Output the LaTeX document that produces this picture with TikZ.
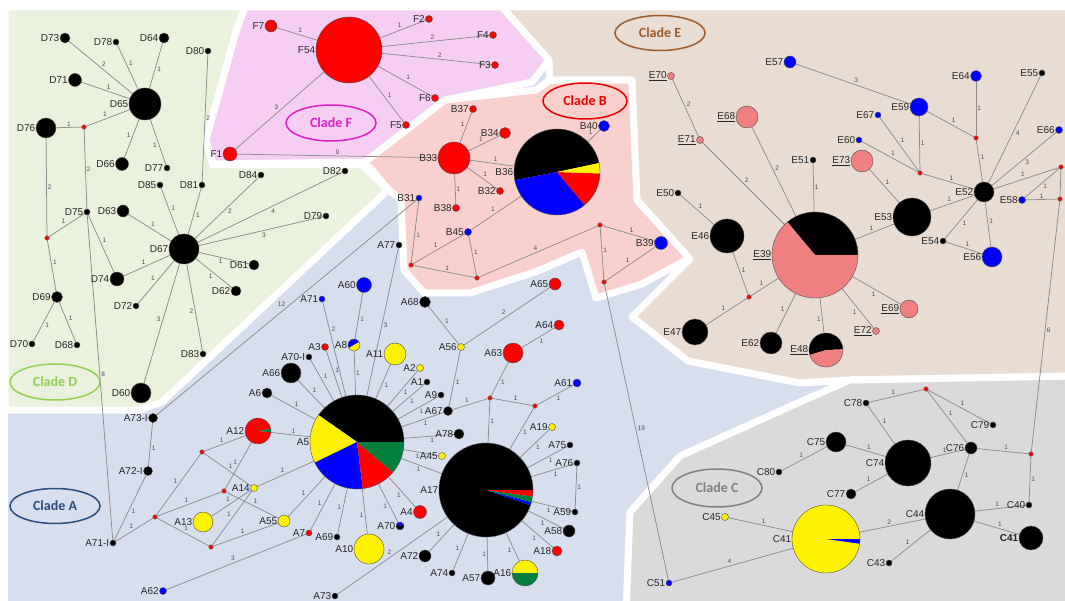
\documentclass[tikz,border=0pt]{standalone}
\usepackage{fontspec}
\setmainfont{Liberation Sans}
\newfontfamily\cladefont{Carlito}
\usetikzlibrary{shapes.geometric}
\definecolor{regA}{HTML}{D7DFEF}
\definecolor{regD}{HTML}{EAF1DD}
\definecolor{regF}{HTML}{F6CEF3}
\definecolor{regB}{HTML}{F9D0CE}
\definecolor{regE}{HTML}{E9DDD3}
\definecolor{regC}{HTML}{DADADA}
\definecolor{ecol}{HTML}{F08080}
\definecolor{gcol}{HTML}{00803C}
\definecolor{cD}{HTML}{92D050}
\definecolor{cF}{HTML}{DD22CC}
\definecolor{cB}{HTML}{EE0000}
\definecolor{cE}{HTML}{9E5B2A}
\definecolor{cA}{HTML}{2B4C7E}
\definecolor{cC}{HTML}{808080}
\pgfdeclarelayer{back}
\pgfdeclarelayer{edges}
\pgfsetlayers{back,edges,main}
\tikzset{
 edge/.style={draw=black!45, line width=0.75pt},
 hp/.style={circle, draw=black!70, line width=0.4pt, inner sep=0pt, outer sep=0pt},
 lab/.style={font=\fontsize{10}{10}\selectfont, text=black!85, inner sep=0.6pt},
 elab/.style={font=\fontsize{6.5}{6.5}\selectfont, text=black!70, inner sep=1pt, midway, auto},
 region/.style={draw=white, line width=7pt, line join=round},
 clade/.style={ellipse, draw, line width=1.5pt, minimum width=90pt, minimum height=36pt, inner sep=0pt, font=\cladefont\bfseries\fontsize{14}{14}\selectfont},
}
\newcommand\hap[6]{\node[hp, minimum size=#4*2pt, fill=#5, label={[lab]left:#6}] (#1) at (#2,#3) {};}
\newcommand\med[3]{\node[hp, minimum size=4.5pt, fill=red, draw=black!60] (#1) at (#2,#3) {};}
\newcommand\pieslice[6]{\fill[#6] (#1,#2) -- ++(-#3:#5) arc[start angle=-#3, end angle=-#4, radius=#5] -- cycle;}
\newcommand\piehap[5]{\node[hp, minimum size=#4*2pt, label={[lab]left:#5}] (#1) at (#2,#3) {};}
\newcommand\ed[3]{\draw[edge] (#1) -- node[elab]{#3} (#2);}
\newcommand\edo[4]{\draw[edge] (#1) -- node[elab,#4]{#3} (#2);}
\begin{document}
\begin{tikzpicture}[x=1pt,y=-1pt]
\useasboundingbox (0,0) rectangle (1065,601);
\begin{pgfonlayer}{back}
\fill[white] (0,0) rectangle (1065,601);
\fill[regA] (8,8) rectangle (1075,610);
\filldraw[region, fill=regD] (5,7) -- (248,7) -- (236,32) -- (206,140) -- (213,165) -- (362,165) -- (388,190) -- (162,402) -- (140,410) -- (5,410) -- cycle;
\filldraw[region, fill=regF] (245,7) -- (502,7) -- (549,60) -- (532,82) -- (445,100) -- (365,162) -- (213,164) -- (206,140) -- (236,32) -- cycle;
\filldraw[region, fill=regB] (365,162) -- (445,100) -- (536,90) -- (550,80) -- (632,80) -- (637,200) -- (690,258) -- (642,284) -- (596,298) -- (582,252) -- (535,272) -- (470,293) -- (424,293) -- (404,270) -- (401,200) -- (388,189) -- cycle;
\filldraw[region, fill=regE] (502,7) -- (1075,7) -- (1075,376) -- (850,380) -- (800,383) -- (688,361) -- (632,317) -- (690,259) -- (637,200) -- (632,80) -- (550,80) -- (549,60) -- cycle;
\filldraw[region, fill=regC] (626,610) -- (630,512) -- (680,456) -- (800,402) -- (850,380) -- (1075,376) -- (1075,610) -- cycle;
\end{pgfonlayer}
% clade labels
\node[clade, draw=cD, text=cD] (cladeD) at (55,382) {Clade D};
\node[clade, draw=cF, text=cF] (cladeF) at (331,123) {Clade F};
\node[clade, draw=cB, text=cB, minimum width=84pt] (cladeB) at (585,101) {Clade B};
\node[clade, draw=cE, text=cE, minimum height=35pt] (cladeE) at (660,33) {Clade E};
\node[clade, draw=cA, text=cA, minimum height=35pt] (cladeA) at (55,506) {Clade A};
\node[clade, draw=cC, text=cC, minimum height=38pt] (cladeC) at (717,488) {Clade C};
% Clade D
\hap{D73}{65}{38}{5}{black}{D73}
\hap{D78}{116}{42}{3}{black}{D78}
\hap{D64}{164}{38}{5}{black}{D64}
\hap{D80}{208}{51}{3}{black}{D80}
\hap{D71}{75}{80}{6.5}{black}{D71}
\hap{D65}{145}{104}{16}{black}{D65}
\hap{D76}{46}{128}{10}{black}{D76}
\med{mD1}{84}{127}
\hap{D66}{122}{164}{6.5}{black}{D66}
\hap{D77}{167}{168}{3}{black}{D77}
\hap{D85}{160}{185}{3}{black}{D85}
\hap{D81}{202}{185}{3}{black}{D81}
\hap{D84}{261}{175}{3}{black}{D84}
\hap{D82}{345}{171}{3}{black}{D82}
\hap{D79}{326}{216}{3}{black}{D79}
\hap{D75}{87}{212}{3}{black}{D75}
\med{mD2}{47}{238}
\hap{D63}{123}{211}{6}{black}{D63}
\hap{D67}{184}{249}{15}{black}{D67}
\hap{D74}{117}{279}{7}{black}{D74}
\hap{D72}{136}{306}{3}{black}{D72}
\hap{D61}{254}{265}{5}{black}{D61}
\hap{D62}{236}{291}{5}{black}{D62}
\hap{D69}{57}{297}{5.5}{black}{D69}
\hap{D70}{32}{344}{3}{black}{D70}
\hap{D68}{77}{345}{3}{black}{D68}
\hap{D83}{203}{354}{3}{black}{D83}
\hap{D60}{141}{393}{10}{black}{D60}
% Clade F
\hap{F7}{271}{26}{6}{red}{F7}
\hap{F54}{349}{50}{33}{red}{F54}
\hap{F2}{429}{19}{3.5}{red}{F2}
\hap{F4}{493}{35}{3.5}{red}{F4}
\hap{F3}{495}{65}{3.5}{red}{F3}
\hap{F6}{435}{98}{3.5}{red}{F6}
\hap{F5}{406}{125}{3.5}{red}{F5}
\hap{F1}{230}{154}{7}{red}{F1}
% Clade B
\hap{B33}{454}{158}{16}{red}{B33}
\hap{B37}{473}{109}{3.5}{red}{B37}
\hap{B34}{505}{133}{5.5}{red}{B34}
\pieslice{557}{172}{12}{191}{43}{black}
\pieslice{557}{172}{191}{310}{43}{blue}
\pieslice{557}{172}{310}{358}{43}{red}
\pieslice{557}{172}{358}{372}{43}{yellow}
\piehap{B36}{557}{172}{43}{B36}
\hap{B32}{500}{191}{3.5}{red}{B32}
\hap{B38}{456}{208}{3.5}{red}{B38}
\hap{B40}{604}{126}{5.5}{blue}{B40}
\hap{B31}{419}{198}{3}{blue}{B31}
\hap{B45}{468}{232}{3.5}{blue}{B45}
\med{rBa}{411}{265}
\med{rBb}{477}{278}
\med{rB1}{600}{225}
\med{rB2}{604}{282}
\hap{B39}{661}{243}{6.5}{blue}{B39}
% Clade E
\hap{E70}{671}{76}{3.5}{ecol}{\underline{E70}}
\hap{E71}{700}{140}{3.5}{ecol}{\underline{E71}}
\hap{E68}{747}{117}{11}{ecol}{\underline{E68}}
\hap{E57}{790}{62}{6}{blue}{E57}
\hap{E64}{976}{76}{5.5}{blue}{E64}
\hap{E55}{1042}{73}{3}{black}{E55}
\hap{E59}{919}{107}{9}{blue}{E59}
\hap{E67}{878}{115}{3}{blue}{E67}
\hap{E60}{859}{140}{3}{blue}{E60}
\hap{E73}{862}{161}{11}{ecol}{\underline{E73}}
\hap{E51}{813}{160}{3}{black}{E51}
\med{mE1}{976}{138}
\med{mE2}{920}{173}
\hap{E52}{984}{192}{10}{black}{E52}
\hap{E66}{1059}{130}{3.5}{blue}{E66}
\med{mE3}{1061}{167}
\hap{E58}{1022}{200}{3.5}{blue}{E58}
\med{mE4}{1060}{199}
\hap{E50}{678}{193}{3}{black}{E50}
\hap{E46}{727}{236}{17}{black}{E46}
\pieslice{815}{255}{0}{130}{43}{black}
\pieslice{815}{255}{130}{360}{43}{ecol}
\piehap{E39}{815}{255}{43}{\underline{E39}}
\hap{E53}{912}{217}{19}{black}{E53}
\hap{E54}{943}{241}{3}{black}{E54}
\hap{E56}{992}{257}{10}{blue}{E56}
\med{mE5}{749}{297}
\hap{E47}{695}{332}{13}{black}{E47}
\hap{E62}{771}{343}{11}{black}{E62}
\pieslice{826}{350}{2}{197}{17}{black}
\pieslice{826}{350}{197}{362}{17}{ecol}
\piehap{E48}{826}{350}{17}{\underline{E48}}
\hap{E69}{909}{309}{9}{ecol}{\underline{E69}}
\hap{E72}{876}{331}{3.5}{ecol}{\underline{E72}}
% Clade C
\hap{C78}{866}{403}{3}{black}{C78}
\med{mC2}{926}{389}
\hap{C79}{993}{425}{3}{black}{C79}
\hap{C75}{836}{442}{10}{black}{C75}
\hap{C74}{908}{463}{23}{black}{C74}
\hap{C76}{971}{448}{6}{black}{C76}
\med{mC1}{1031}{454}
\hap{C80}{779}{472}{3}{black}{C80}
\hap{C77}{851}{494}{5}{black}{C77}
\hap{C44}{950}{514}{25}{black}{C44}
\hap{C40}{1029}{505}{3}{black}{C40}
\hap{C41b}{1031}{538}{12}{black}{\textbf{C41}}
\hap{C43}{889}{563}{3}{black}{C43}
\pieslice{826}{539}{0}{352}{34}{yellow}
\pieslice{826}{539}{352}{360}{34}{blue}
\piehap{C41}{826}{539}{34}{C41}
\hap{C45}{725}{517}{3.5}{yellow}{C45}
\hap{C51}{669}{583}{3}{blue}{C51}
% Clade A
\hap{A73I}{153}{418}{4.5}{black}{A73-I}
\hap{A72I}{148}{471}{4.5}{black}{A72-I}
\hap{A71I}{113}{543}{3}{black}{A71-I}
\med{rA1}{155}{517}
\med{rA2}{202}{452}
\med{rA3}{224}{491}
\med{rA4}{211}{547}
\hap{A13}{203}{522}{10}{yellow}{A13}
\hap{A14}{254}{488}{3.5}{yellow}{A14}
\pieslice{258}{431}{10}{355}{13}{red}
\pieslice{258}{431}{355}{370}{13}{gcol}
\piehap{A12}{258}{431}{13}{A12}
\hap{A55}{284}{521}{6}{yellow}{A55}
\hap{A62}{163}{591}{3.5}{blue}{A62}
\hap{A7}{309}{533}{3}{red}{A7}
\hap{A69}{337}{537}{3}{black}{A69}
\hap{A10}{369}{549}{15}{yellow}{A10}
\hap{A73}{335}{596}{3}{black}{A73}
\pieslice{400}{526}{150}{390}{4}{black}
\pieslice{400}{526}{30}{150}{4}{blue}
\piehap{A70}{400}{526}{4}{A70}
\hap{A4}{420}{512}{6.5}{red}{A4}
\pieslice{357}{442}{0}{145}{47}{black}
\pieslice{357}{442}{145}{206}{47}{yellow}
\pieslice{357}{442}{206}{277}{47}{blue}
\pieslice{357}{442}{277}{320}{47}{red}
\pieslice{357}{442}{320}{360}{47}{gcol}
\piehap{A5}{357}{442}{47}{A5}
\hap{A6}{267}{393}{5}{black}{A6}
\hap{A66}{291}{373}{10}{black}{A66}
\hap{A70I}{309}{357}{3}{black}{A70-I}
\hap{A3}{325}{347}{3.5}{red}{A3}
\hap{A71}{322}{299}{3}{blue}{A71}
\pieslice{354}{345}{30}{210}{6}{blue}
\pieslice{354}{345}{210}{390}{6}{yellow}
\piehap{A8}{354}{345}{6}{A8}
\hap{A60}{364}{285}{7.5}{blue}{A60}
\hap{A77}{399}{245}{3}{black}{A77}
\hap{A11}{395}{354}{11}{yellow}{A11}
\hap{A2}{420}{368}{3.5}{yellow}{A2}
\hap{A1}{427}{382}{3}{black}{A1}
\hap{A9}{441}{395}{3}{black}{A9}
\hap{A67}{448}{411}{4.5}{black}{A67}
\hap{A78}{459}{434}{5}{black}{A78}
\hap{A45}{442}{456}{3.5}{yellow}{A45}
\hap{A68}{425}{302}{5.5}{black}{A68}
\hap{A56}{461}{347}{3.5}{yellow}{A56}
\hap{A65}{555}{284}{6}{red}{A65}
\hap{A64}{559}{325}{5}{red}{A64}
\hap{A63}{513}{353}{10}{red}{A63}
\med{rA5}{490}{398}
\med{rA6}{535}{406}
\hap{A61}{577}{383}{4}{blue}{A61}
\hap{A19}{552}{427}{3.5}{yellow}{A19}
\hap{A75}{570}{445}{3}{black}{A75}
\hap{A76}{577}{463}{3}{black}{A76}
\hap{A59}{575}{512}{3}{black}{A59}
\hap{A58}{569}{531}{6}{black}{A58}
\hap{A18}{557}{551}{5}{red}{A18}
\pieslice{486}{490}{0}{341}{47}{black}
\pieslice{486}{490}{341}{345}{47}{blue}
\pieslice{486}{490}{345}{352}{47}{gcol}
\pieslice{486}{490}{352}{360}{47}{red}
\piehap{A17}{486}{490}{47}{A17}
\hap{A72}{425}{556}{6}{black}{A72}
\hap{A74}{452}{573}{3}{black}{A74}
\hap{A57}{488}{578}{7}{black}{A57}
\pieslice{525}{573}{0}{180}{13}{yellow}
\pieslice{525}{573}{180}{360}{13}{gcol}
\piehap{A16}{525}{573}{13}{A16}
% connectors
\begin{pgfonlayer}{edges}
% D
\ed{D73}{D65}{2}\ed{D78}{D65}{1}\ed{D64}{D65}{1}\ed{D71}{D65}{1}
\ed{D76}{mD1}{1}\ed{mD1}{D65}{1}\ed{D66}{D65}{1}\ed{D77}{D65}{1}
\ed{D80}{D81}{2}\ed{D76}{mD2}{2}\ed{mD1}{D75}{2}\ed{mD2}{D75}{1}
\ed{mD2}{D69}{1}\ed{D69}{D70}{1}\ed{D69}{D68}{1}\ed{D75}{D74}{1}
\ed{D63}{D67}{1}\ed{D74}{D67}{1}\ed{D72}{D67}{1}\ed{D61}{D67}{1}
\ed{D62}{D67}{1}\ed{D83}{D67}{2}\ed{D60}{D67}{3}\ed{D85}{D67}{1}
\ed{D81}{D67}{1}\ed{D84}{D67}{2}\ed{D82}{D67}{4}\ed{D79}{D67}{3}
\ed{D75}{A71I}{8}
% F
\ed{F7}{F54}{1}\ed{F54}{F2}{1}\ed{F54}{F4}{2}\ed{F54}{F3}{2}
\ed{F54}{F6}{1}\ed{F54}{F5}{1}\ed{F1}{F54}{3}\ed{F1}{B33}{9}
% B
\ed{B33}{B37}{1}\ed{B33}{B34}{1}\ed{B33}{B36}{1}\ed{B33}{B32}{1}
\ed{B33}{B38}{1}\ed{B36}{B40}{1}\ed{B45}{B36}{1}\ed{B31}{rBa}{1}
\ed{rBa}{B45}{1}\ed{rBa}{rBb}{1}\ed{B45}{rBb}{1}\ed{rBb}{rB1}{4}
\ed{rB1}{B39}{1}\ed{rB1}{rB2}{1}\ed{rB2}{B39}{1}\ed{rB2}{C51}{19}
\ed{A73I}{B31}{12}
% E
\ed{E57}{E59}{3}\ed{E70}{E71}{2}\ed{E71}{E39}{2}\ed{E68}{E39}{2}
\ed{E51}{E39}{1}\ed{E50}{E46}{1}\ed{E46}{mE5}{1}\ed{E47}{mE5}{1}
\ed{mE5}{E39}{1}\ed{E62}{E39}{1}\ed{E48}{E39}{1}\ed{E72}{E39}{1}
\ed{E69}{E39}{1}\ed{E39}{E53}{1}\ed{E53}{E52}{1}\ed{E73}{E53}{1}
\ed{E52}{E54}{1}\ed{E52}{E56}{1}\ed{E54}{E56}{1}\ed{mE2}{E52}{1}
\ed{E59}{mE2}{1}\ed{E67}{mE2}{1}\ed{E60}{mE2}{1}\ed{E59}{mE1}{1}
\ed{E64}{mE1}{1}\ed{mE1}{E52}{1}\ed{E55}{E52}{4}\ed{E66}{E52}{3}
\ed{E52}{mE3}{1}\ed{mE3}{E58}{1}\ed{E58}{mE4}{1}
\draw[edge] (mE3) -- (mE4);
\ed{mE4}{mC1}{6}
% C
\ed{C78}{mC2}{1}\ed{mC2}{C79}{1}\ed{mC2}{C76}{1}\ed{C78}{C74}{1}
\ed{C75}{C74}{1}\ed{C80}{C75}{1}\ed{C77}{C74}{1}\ed{C74}{C76}{1}
\ed{C76}{mC1}{1}\ed{C76}{C44}{1}\ed{mC1}{C40}{1}\ed{C44}{C40}{1}
\ed{C44}{C41b}{1}\ed{C41}{C44}{2}\ed{C43}{C44}{1}\ed{C45}{C41}{1}
\ed{C51}{C41}{4}
% A
\ed{A73I}{A72I}{1}\ed{A72I}{A71I}{1}\ed{A71I}{rA1}{1}\ed{rA1}{rA2}{1}
\ed{rA1}{rA3}{1}\ed{rA1}{rA4}{1}\ed{rA2}{A12}{1}\ed{rA3}{A12}{1}
\ed{rA2}{A14}{1}\ed{rA4}{A14}{1}\ed{rA3}{A55}{1}\ed{rA4}{A55}{1}
\ed{A13}{A14}{1}\ed{A14}{A5}{1}\ed{A55}{A5}{1}\ed{A12}{A5}{1}
\ed{A62}{A7}{3}\ed{A7}{A5}{1}\ed{A69}{A5}{1}\ed{A10}{A5}{1}
\ed{A70}{A5}{1}\ed{A4}{A5}{1}\ed{A73}{A17}{2}\ed{A6}{A5}{1}
\ed{A66}{A5}{1}\ed{A70I}{A5}{1}\ed{A3}{A5}{1}\edo{A71}{A5}{2}{pos=0.33}
\ed{A8}{A5}{1}\ed{A60}{A8}{1}\ed{A77}{A5}{3}\ed{A11}{A5}{1}
\ed{A2}{A5}{1}\ed{A1}{A5}{1}\ed{A9}{A5}{1}\ed{A67}{A5}{1}
\ed{A78}{A5}{1}\ed{A45}{A5}{1}\ed{A17}{A5}{1}\ed{A68}{A56}{1}
\ed{A56}{A65}{2}\ed{A56}{A67}{1}\ed{A64}{A63}{1}\ed{A63}{rA5}{1}
\ed{rA5}{A17}{1}\ed{A67}{rA5}{1}\ed{rA5}{rA6}{1}\ed{A61}{rA6}{1}
\ed{rA6}{A17}{1}\ed{A19}{A17}{1}\ed{A75}{A17}{1}\ed{A76}{A17}{1}
\ed{A59}{A17}{1}\ed{A58}{A17}{1}\ed{A18}{A17}{1}\ed{A76}{A59}{1}
\ed{A72}{A17}{1}\ed{A74}{A17}{1}\ed{A57}{A17}{1}\ed{A16}{A17}{1}
\end{pgfonlayer}
\end{tikzpicture}
\end{document}
